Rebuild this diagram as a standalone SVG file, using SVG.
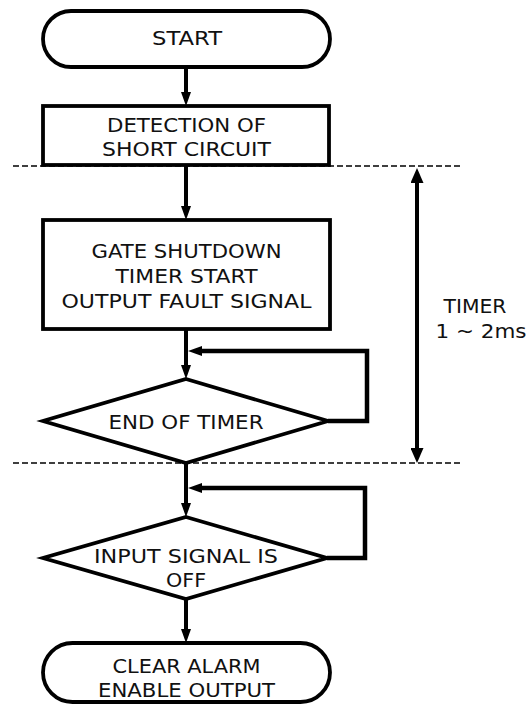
<svg xmlns="http://www.w3.org/2000/svg" width="531" height="709" viewBox="0 0 531 709">
<style>
.shape{fill:#fff;stroke:#000;stroke-width:3.8}
.dash{stroke:#000;stroke-width:1.5;stroke-dasharray:6 3;fill:none}
.flow{stroke:#000;stroke-width:4;fill:none}
.loop{stroke:#000;stroke-width:4.5;fill:none}
text{font-family:"DejaVu Sans","Verdana",sans-serif;font-size:19px;fill:#111;text-anchor:middle}
</style>
<defs>
<marker id="ah" viewBox="0 0 14 10" refX="6" refY="5" markerWidth="14" markerHeight="10" markerUnits="userSpaceOnUse" orient="auto">
<path d="M0,0 L14,5 L0,10 z" fill="#000"/>
</marker>
<marker id="th" viewBox="0 0 15 13" refX="7" refY="6.5" markerWidth="15" markerHeight="13" markerUnits="userSpaceOnUse" orient="auto-start-reverse">
<path d="M0,0 L15,6.5 L0,13 z" fill="#000"/>
</marker>
</defs>
<g id="guides">
<line class="dash" x1="13" y1="166" x2="460" y2="166"/>
<line class="dash" x1="13" y1="463" x2="460" y2="463"/>
</g>
<g id="connectors">
<path class="flow" d="M186,67 V98" marker-end="url(#ah)"/>
<path class="flow" d="M186,165 V212" marker-end="url(#ah)"/>
<path class="flow" d="M186,329 V371" marker-end="url(#ah)"/>
<path class="loop" d="M328,421 H367 V351 H196" marker-end="url(#ah)"/>
<path class="flow" d="M186,463 V509" marker-end="url(#ah)"/>
<path class="loop" d="M327,558 H365 V488 H196" marker-end="url(#ah)"/>
<path class="flow" d="M186,599 V635" marker-end="url(#ah)"/>
<path class="flow" d="M417,176 V455" marker-start="url(#th)" marker-end="url(#th)"/>
</g>
<g id="start">
<rect class="shape" x="43" y="11" width="287" height="56" rx="28" ry="28"/>
<text x="187" y="45" textLength="70" lengthAdjust="spacingAndGlyphs">START</text>
</g>
<g id="detection">
<rect class="shape" x="43" y="106" width="286" height="59"/>
<text x="186.5" y="131.5" textLength="159" lengthAdjust="spacingAndGlyphs">DETECTION OF</text>
<text x="186.5" y="156" textLength="169" lengthAdjust="spacingAndGlyphs">SHORT CIRCUIT</text>
</g>
<g id="gate">
<rect class="shape" x="43" y="220" width="287" height="109"/>
<text x="186.5" y="258" textLength="190" lengthAdjust="spacingAndGlyphs">GATE SHUTDOWN</text>
<text x="186.5" y="283" textLength="142" lengthAdjust="spacingAndGlyphs">TIMER START</text>
<text x="186.5" y="308" textLength="250" lengthAdjust="spacingAndGlyphs">OUTPUT FAULT SIGNAL</text>
</g>
<g id="endtimer">
<polygon class="shape" points="186,379 328,421 186,463 43,421"/>
<text x="186" y="429" textLength="155" lengthAdjust="spacingAndGlyphs">END OF TIMER</text>
</g>
<g id="inputoff">
<polygon class="shape" points="186,517 327,558 186,599 43,558"/>
<text x="186" y="563" textLength="184" lengthAdjust="spacingAndGlyphs">INPUT SIGNAL IS</text>
<text x="186" y="587" textLength="40" lengthAdjust="spacingAndGlyphs">OFF</text>
</g>
<g id="clear">
<rect class="shape" x="43" y="643" width="287" height="59" rx="29.5" ry="29.5"/>
<text x="186.5" y="673" textLength="148" lengthAdjust="spacingAndGlyphs">CLEAR ALARM</text>
<text x="186.5" y="697" textLength="177" lengthAdjust="spacingAndGlyphs">ENABLE OUTPUT</text>
</g>
<g id="timer">
<text x="475" y="313" textLength="63" lengthAdjust="spacingAndGlyphs">TIMER</text>
<text x="481" y="338" textLength="91" lengthAdjust="spacingAndGlyphs">1 ~ 2ms</text>
</g>
</svg>
